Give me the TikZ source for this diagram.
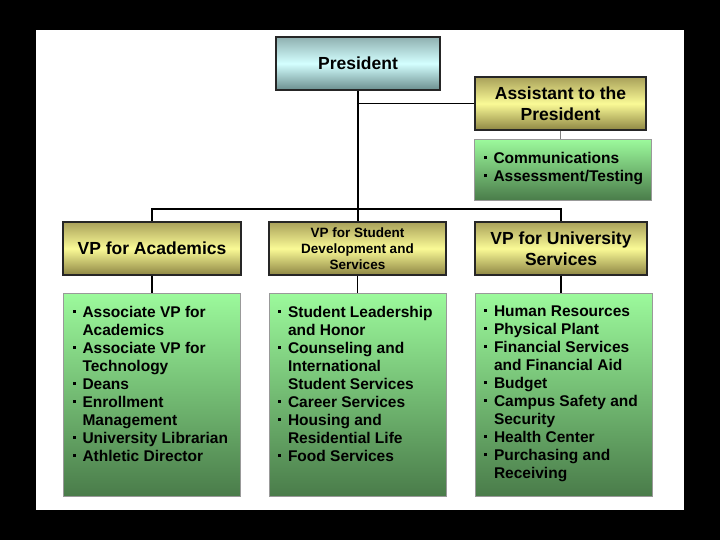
\documentclass[tikz,border=0pt]{standalone}
\usepackage{fontspec}
\setmainfont{Liberation Sans}
\usepackage{tikz}
\usetikzlibrary{positioning}

\definecolor{prtop}{HTML}{8FB0B0}
\definecolor{prmid}{HTML}{D4FFFF}
\definecolor{prbot}{HTML}{6B8E8E}
\definecolor{vptop}{HTML}{A9A15A}
\definecolor{vpmid}{HTML}{FAFA96}
\definecolor{vpbot}{HTML}{8E8644}
\definecolor{lstop}{HTML}{9CFA9C}
\definecolor{lsbot}{HTML}{4A7C4A}

% bullet item and top-aligned list body
\newcommand{\bul}{\par\hangindent=19pt\hangafter=1\noindent\makebox[19pt][l]{\hspace{9pt}\rule[4.5pt]{3pt}{3pt}}}
\newcommand{\blist}[2]{\parbox[t][#1][t]{177pt}{\raggedright\parskip=0pt\vspace*{13pt}#2}}

\begin{document}
\begin{tikzpicture}[
  x=1pt, y=-1pt,
  title/.style={
    draw=black!85, line width=1.5pt,
    minimum height=53pt, inner sep=0pt,
    align=center, font=\fontsize{17.5}{21}\selectfont\bfseries
  },
  prez/.style={title, top color=prtop, bottom color=prbot, middle color=prmid},
  vpbox/.style={title, top color=vptop, bottom color=vpbot, middle color=vpmid},
  listbox/.style={
    draw=black!40, line width=0.6pt,
    top color=lstop, bottom color=lsbot,
    inner sep=0pt, minimum width=177pt, anchor=north,
    font=\fontsize{15.5}{18}\selectfont\bfseries
  },
  link/.style={draw=black, line width=1.2pt}
]
  % page
  \fill[black] (0,0) rectangle (720,540);
  \fill[white] (36,30) rectangle (684,510);

  \node[prez, minimum width=164pt]  (pres) at (358,63.5)    {President};
  \node[vpbox, minimum width=171pt] (asst) at (560.5,103.5) {Assistant to the\\President};
  \node[listbox] (comm) at (563,139)
    {\blist{61pt}{\bul Communications\bul Assessment/Testing}};

  \node[vpbox, minimum width=178pt] (acad) at (152,248.5)   {VP for Academics};
  \node[vpbox, minimum width=177pt, font=\fontsize{13.5}{16}\selectfont\bfseries]
    (stud) at (357.5,248.5) {VP for Student\\Development and\\Services};
  \node[vpbox, minimum width=172pt] (univ) at (561,248.5)   {VP for University\\Services};

  \node[listbox, below=17pt of acad] (acadlist)
    {\blist{203pt}{\bul Associate VP for\newline Academics
      \bul Associate VP for\newline Technology
      \bul Deans
      \bul Enrollment\newline Management
      \bul University Librarian
      \bul Athletic Director}};
  \node[listbox, below=17pt of stud] (studlist)
    {\blist{203pt}{\bul Student Leadership\newline and Honor
      \bul Counseling and\newline International\newline Student Services
      \bul Career Services
      \bul Housing and\newline Residential Life
      \bul Food Services}};
  \node[listbox, below=17pt of univ, xshift=2.5pt] (univlist)
    {\blist{203pt}{\bul Human Resources
      \bul Physical Plant
      \bul Financial Services\newline and Financial Aid
      \bul Budget
      \bul Campus Safety and\newline Security
      \bul Health Center
      \bul Purchasing and\newline Receiving}};

  % connectors
  \coordinate (bus) at (0,209);
  \draw[link] (pres.south) -- (pres.south |- stud.north);
  \draw[link] (pres.south |- asst.west) -- (asst.west);
  \draw[link] (acad.north) |- (univ.north |- bus) -- (univ.north);
  \draw[link, draw=black!50] (asst.south) -- (asst.south |- comm.north);
  \draw[link] (acad.south) -- (acad.south |- acadlist.north);
  \draw[link] (stud.south) -- (stud.south |- studlist.north);
  \draw[link] (univ.south) -- (univ.south |- univlist.north);
\end{tikzpicture}
\end{document}
